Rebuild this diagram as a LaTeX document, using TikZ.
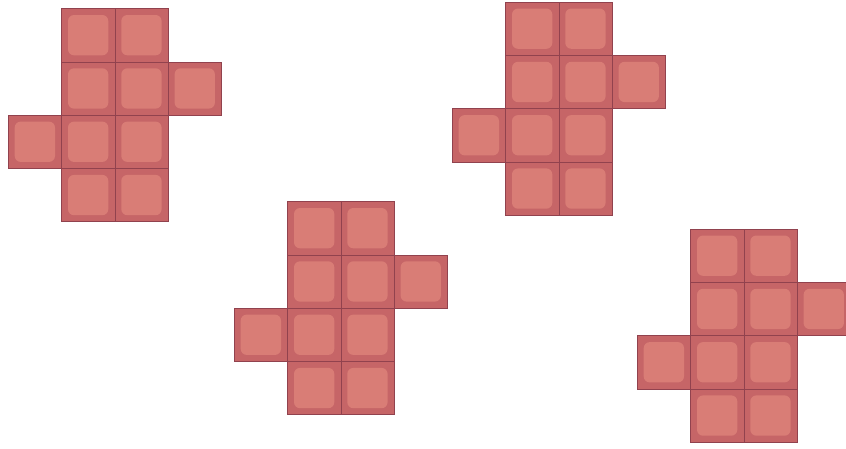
\documentclass[tikz,border=0pt]{standalone}
\definecolor{tileOut}{RGB}{198,101,103}
\definecolor{tileIn}{RGB}{217,125,118}
\definecolor{tileLine}{RGB}{145,66,78}
\tikzset{
  cellbox/.style={draw=tileLine, line width=0.6pt, fill=tileOut},
  cellcore/.style={fill=tileIn, rounded corners=6pt},
}
\newcommand{\tilecell}[2]{%
  \path[cellbox] (#1*53.3,#2*53.3) rectangle ++(53.3,53.3);
  \path[cellcore] (#1*53.3+6.5,#2*53.3+6.5) rectangle ++(40.3,40.3);
}
\newcommand{\tilenet}[2]{%
  \begin{scope}[shift={(#1,#2)}]
    \foreach \c/\r in {0/0,1/0,0/1,1/1,2/1,-1/2,0/2,1/2,0/3,1/3}{\tilecell{\c}{\r}}
  \end{scope}
}
\begin{document}
\begin{tikzpicture}[x=1pt,y=-1pt]
\useasboundingbox (0,0) rectangle (846,448);
\clip (0,0) rectangle (846,448);
\tilenet{61.5}{8.5}
\tilenet{287.5}{201.5}
\tilenet{505.5}{2}
\tilenet{690.5}{229}
\end{tikzpicture}
\end{document}
